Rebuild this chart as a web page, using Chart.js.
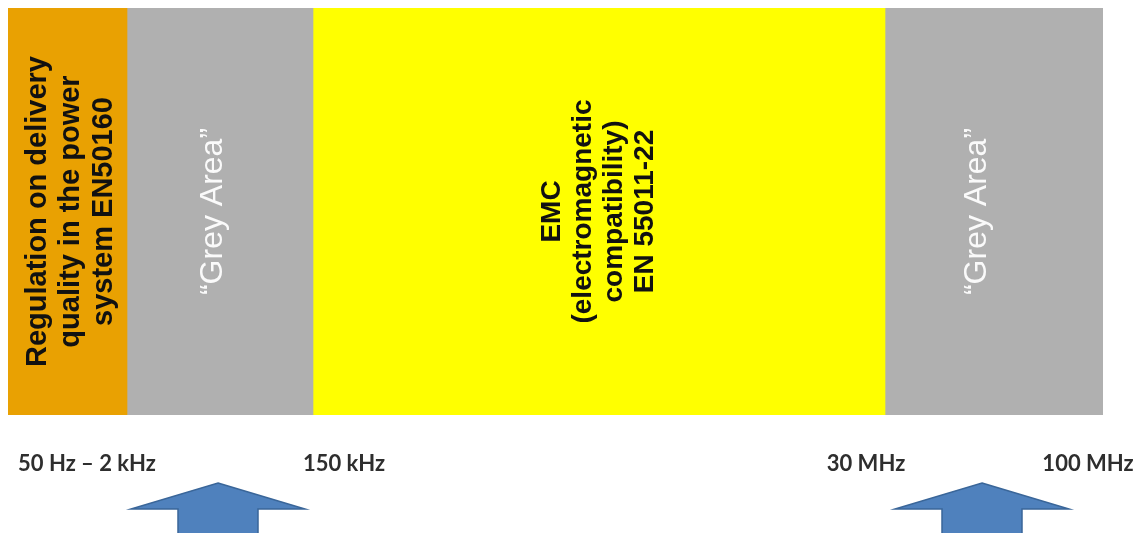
<!DOCTYPE html>
<html lang="en">
  <head>
    <meta charset="UTF-8" />
    <title>Frequency ranges and regulations</title>
    <style>
      html, body { margin: 0; padding: 0; background: #ffffff; }
      .wrap { width: 1140px; height: 533px; }
    </style>
  </head>
  <body>
    <div class="wrap">
      <canvas id="myChart" width="1140" height="533"></canvas>
    </div>
    <script src="https://cdn.jsdelivr.net/npm/chart.js"></script>
    <script>
// frequency bands, left to right (widths in axis units)
const bandNames = ["EN50160", "Grey Area 1", "EMC", "Grey Area 2"];
const bandWidths = [119, 186, 572, 218];
const bandTexts = [
  ["Regulation on delivery", "quality in the power", "system EN50160"],
  ["\u201cGrey Area\u201d"],
  ["EMC", "(electromagnetic", "compatibility)", "EN 55011-22"],
  ["\u201cGrey Area\u201d"],
];
const bandColors = ["#E9A102", "#B0B0B0", "#FFFF00", "#B0B0B0"];

// frequency marks under the bar
const tickValues = [79, 336, 858, 1080];
const tickLabels = ["50 Hz \u2013 2 kHz", "150 kHz", "30 MHz", "100 MHz"];

// arrows point at the grey areas
const arrowValues = [210, 974];

const textStyles = [
  { color: "#111111", font: "bold 29px 'Liberation Sans'", lineHeight: 33, dx: 3 },
  { color: "#FAFAFA", font: "32px 'Liberation Sans'", lineHeight: 33, dx: -7 },
  { color: "#111111", font: "bold 28px 'Liberation Sans'", lineHeight: 31, dx: 0 },
  { color: "#FAFAFA", font: "32px 'Liberation Sans'", lineHeight: 33, dx: -17 },
];

const bandTextPlugin = {
  id: "bandText",
  afterDatasetsDraw(chart) {
    const ctx = chart.ctx;
    chart.data.datasets.forEach((ds, i) => {
      const bar = chart.getDatasetMeta(i).data[0];
      if (!bar) return;
      const p = bar.getProps(["x", "y", "base"], true);
      const cx = (p.x + p.base) / 2 + textStyles[i].dx;
      const cy = p.y;
      const lines = bandTexts[i];
      const lh = textStyles[i].lineHeight;
      ctx.save();
      ctx.translate(cx, cy);
      ctx.rotate(-Math.PI / 2);
      ctx.font = textStyles[i].font;
      ctx.fillStyle = textStyles[i].color;
      ctx.textAlign = "center";
      ctx.textBaseline = "middle";
      lines.forEach((t, k) => {
        ctx.fillText(t, 0, (k - (lines.length - 1) / 2) * lh);
      });
      ctx.restore();
    });
  },
};

const arrowPlugin = {
  id: "arrows",
  afterDraw(chart) {
    const ctx = chart.ctx;
    const xs = chart.scales.x;
    arrowValues.forEach((v) => {
      const x = xs.getPixelForValue(v);
      const tip = 483, wing = 509, bottom = 540;
      ctx.save();
      ctx.beginPath();
      ctx.moveTo(x, tip);
      ctx.lineTo(x + 87, wing);
      ctx.lineTo(x + 40, wing);
      ctx.lineTo(x + 40, bottom);
      ctx.lineTo(x - 40, bottom);
      ctx.lineTo(x - 40, wing);
      ctx.lineTo(x - 87, wing);
      ctx.closePath();
      ctx.fillStyle = "#4F81BD";
      ctx.fill();
      ctx.strokeStyle = "#3A6699";
      ctx.lineWidth = 1.5;
      ctx.stroke();
      ctx.restore();
    });
  },
};

const ctx = document.getElementById("myChart").getContext("2d");
const myChart = new Chart(ctx, {
  type: "bar",
  data: {
    labels: ["range"],
    datasets: bandNames.map((name, i) => ({
      label: name,
      data: [bandWidths[i]],
      backgroundColor: bandColors[i],
      borderWidth: 0,
      barPercentage: 1,
      categoryPercentage: 1,
    })),
  },
  options: {
    indexAxis: "y",
    responsive: false,
    animation: false,
    layout: { padding: { left: 8, top: 8, right: 37, bottom: 0 } },
    scales: {
      x: {
        stacked: true,
        min: 0,
        max: 1095,
        grid: { display: false, drawTicks: false },
        border: { display: false },
        afterBuildTicks: (scale) => {
          scale.ticks = tickValues.map((v) => ({ value: v }));
        },
        afterFit: (scale) => {
          scale.height = 118;
          scale.paddingLeft = 0;
          scale.paddingRight = 0;
        },
        ticks: {
          autoSkip: false,
          maxRotation: 0,
          padding: 36,
          color: "#2E2E2E",
          font: { family: "Lato", size: 22, weight: "bold" },
          callback: (value, index) => tickLabels[index],
        },
      },
      y: { stacked: true, display: false },
    },
    plugins: {
      legend: { display: false },
      tooltip: { enabled: false },
    },
  },
  plugins: [bandTextPlugin, arrowPlugin],
});
    </script>
  </body>
</html>
